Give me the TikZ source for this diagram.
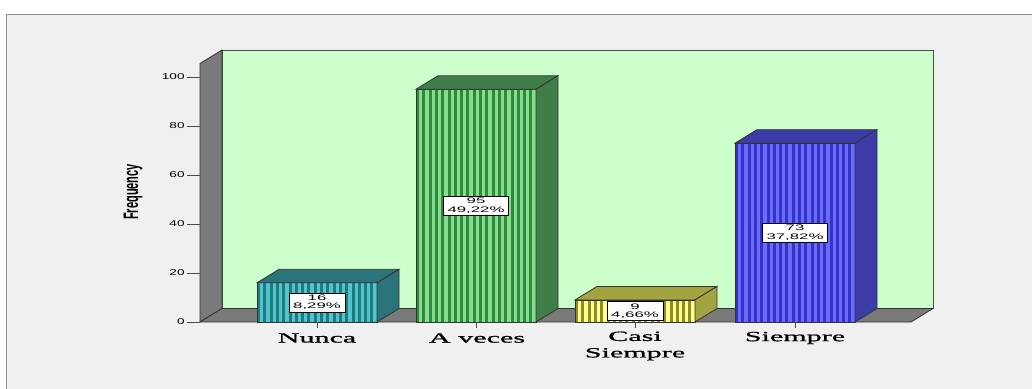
\documentclass[tikz,border=0pt]{standalone}
\usepackage{fontspec}
\usepackage{graphicx}
\setmainfont{Liberation Serif}
\newfontfamily\axisfont[FakeStretch=1.6]{Liberation Sans}
\newfontfamily\boxfont[FakeStretch=2.1]{Liberation Sans}
\newfontfamily\catfont[FakeStretch=2.15,FakeBold=1.2]{Liberation Serif}

\definecolor{panel}{HTML}{F0F0F0}
\definecolor{wall}{HTML}{CCFFCC}
\definecolor{floorgray}{HTML}{7A7A7A}
% bar colours: dark stripe, light stripe, top and side
\definecolor{nuncaD}{HTML}{1D7C82}
\definecolor{nuncaL}{HTML}{55C3CB}
\definecolor{nuncaS}{HTML}{2B7479}
\definecolor{avecesD}{HTML}{2E8B3E}
\definecolor{avecesL}{HTML}{86DC8F}
\definecolor{avecesS}{HTML}{3F7E48}
\definecolor{casiD}{HTML}{8C8C2C}
\definecolor{casiL}{HTML}{FFFF88}
\definecolor{casiS}{HTML}{A3A342}
\definecolor{siempreD}{HTML}{3434C4}
\definecolor{siempreL}{HTML}{6A6AFF}
\definecolor{siempreS}{HTML}{3C3CA8}

\tikzset{
  edgeline/.style={draw=black!80, line width=0.8pt},
  tickline/.style={draw=black!70, line width=0.8pt},
  valbox/.style={draw=black, fill=white, line width=0.6pt, align=center,
    inner xsep=4pt, inner ysep=2pt, font=\boxfont\fontsize{8}{8.5}\selectfont},
  catlabel/.style={align=center, font=\catfont\fontsize{14}{16.5}\selectfont},
  ticklabel/.style={anchor=east, inner sep=1pt, font=\axisfont\fontsize{8.5}{9}\selectfont}
}

% #1 left edge, #2 value, #3 dark, #4 light, #5 top/side, #6 name, #7 label
\newcommand{\chartbar}[7]{%
  \pgfmathsetmacro{\ytop}{322-2.45*#2}
  \fill[#3] (#1,322) rectangle (#1+120,\ytop);
  \foreach \k in {0,...,18}
    \fill[#4] (#1+3+6.3*\k,322) rectangle (#1+6.3+6.3*\k,\ytop);
  \draw[edgeline] (#1,322) rectangle (#1+120,\ytop);
  \filldraw[edgeline, fill=#5] (#1,\ytop) -- ++(22,-13.5) -- ++(120,0)
    -- (#1+120,\ytop) -- cycle;
  \filldraw[edgeline, fill=#5] (#1+120,\ytop) -- ++(22,-13.5)
    -- (#1+142,308.5) -- (#1+120,322) -- cycle;
  \node[valbox] (#6) at (#1+60,{(322+\ytop)/2}) {#7};
  \draw[tickline] (#1+60,322) -- ++(0,6);
}

\begin{document}
\begin{tikzpicture}[x=1pt, y=-1pt]
  \useasboundingbox (0,0) rectangle (1032,388);
  \fill[white] (0,0) rectangle (1032,388);
  \begin{scope}
    \clip (0,0) rectangle (1032,388);
    \filldraw[fill=panel, draw=black!45, line width=1pt] (6,14) rectangle (1040,400);
  \end{scope}

  % Walls and floor
  \filldraw[fill=wall, draw=black!70, line width=0.8pt] (222,50) rectangle (933,308.5);
  \filldraw[fill=floorgray, edgeline] (200,322) -- (200,63.5) -- (222,50)
    -- (222,308.5) -- cycle;
  \filldraw[fill=floorgray, edgeline] (200,322) -- (222,308.5) -- (933,308.5)
    -- (911,322) -- cycle;

  % Axis
  \foreach \v in {0,20,...,100}
    \draw[tickline] (187,322-2.45*\v) -- (200,322-2.45*\v)
      node[ticklabel] (tick\v) at (186,322-2.45*\v) {\v};
  \node[rotate=90] (ylab) at (133,192)
    {\fontspec{Liberation Sans}\bfseries\fontsize{11}{11}\selectfont\scalebox{1}[1.9]{Frequency}};

  % Bars
  \chartbar{257}{16}{nuncaD}{nuncaL}{nuncaS}{vnunca}{16\\8,29\%}
  \chartbar{416}{95}{avecesD}{avecesL}{avecesS}{vaveces}{95\\49,22\%}
  \chartbar{575}{9}{casiD}{casiL}{casiS}{vcasi}{9\\4,66\%}
  \chartbar{735}{73}{siempreD}{siempreL}{siempreS}{vsiempre}{73\\37,82\%}

  % Categories
  \node[catlabel] (cnunca) at (317,338) {Nunca};
  \node[catlabel] (caveces) at (477,338) {A veces};
  \node[catlabel] (ccasi) at (635,346) {Casi\\Siempre};
  \node[catlabel] (csiempre) at (795,338) {Siempre};
\end{tikzpicture}
\end{document}
